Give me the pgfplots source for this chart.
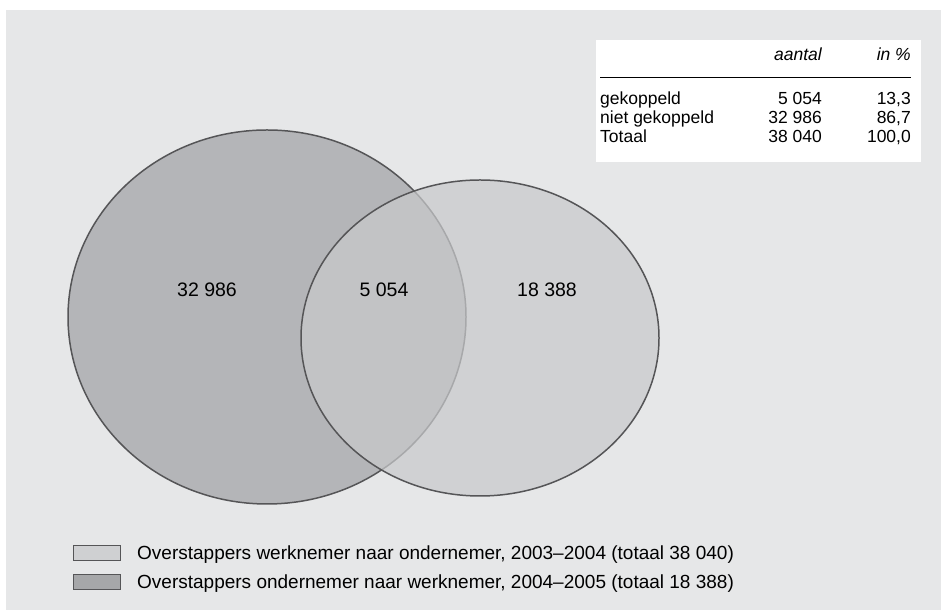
\documentclass[border=0pt]{standalone}
\usepackage{pgfplots}
\pgfplotsset{compat=1.18}
\usepackage{fontspec}
\setmainfont{Liberation Sans}
\definecolor{panel}{HTML}{E6E7E8}
\definecolor{leftfill}{HTML}{B4B5B8}
\definecolor{rightfill}{HTML}{C8C9CB}
\definecolor{edge}{HTML}{555557}
\definecolor{swA}{HTML}{CFD0D2}
\definecolor{swB}{HTML}{A6A7A9}
\begin{document}
\begin{tikzpicture}
\begin{axis}[
  width=941bp, height=610bp, scale only axis,
  xmin=0, xmax=941, ymin=0, ymax=610,
  hide axis, clip=false,
]
% page and panel
\fill[white] (axis cs:0,0) rectangle (axis cs:941,610);
\fill[panel] (axis cs:6,0) rectangle (axis cs:941,600);
% Venn ellipses
\filldraw[fill=leftfill, draw=edge, line width=1.5pt]
  (axis cs:267,293) ellipse [x radius=199, y radius=187];
\fill[rightfill, fill opacity=0.72]
  (axis cs:480,272) ellipse [x radius=179, y radius=158];
\draw[edge, line width=1.5pt]
  (axis cs:480,272) ellipse [x radius=179, y radius=158];
% region values
\node[font=\fontsize{19.5bp}{22bp}\selectfont, anchor=center] at (axis cs:207,320) {32 986};
\node[font=\fontsize{19.5bp}{22bp}\selectfont, anchor=center] at (axis cs:384,320) {5 054};
\node[font=\fontsize{19.5bp}{22bp}\selectfont, anchor=center] at (axis cs:547,320) {18 388};
% table
\fill[white] (axis cs:596,448) rectangle (axis cs:921,570);
\draw[black, line width=0.8pt] (axis cs:600,533) -- (axis cs:911,533);
\begin{scope}[every node/.style={font=\fontsize{17.5bp}{20bp}\selectfont, inner sep=0pt}]
\node[anchor=base east] at (axis cs:822,549) {\itshape aantal};
\node[anchor=base east] at (axis cs:911,549) {\itshape in \%};
\node[anchor=base west] at (axis cs:600,505) {gekoppeld};
\node[anchor=base east] at (axis cs:822,505) {5 054};
\node[anchor=base east] at (axis cs:911,505) {13,3};
\node[anchor=base west] at (axis cs:600,486) {niet gekoppeld};
\node[anchor=base east] at (axis cs:822,486) {32 986};
\node[anchor=base east] at (axis cs:911,486) {86,7};
\node[anchor=base west] at (axis cs:600,467) {Totaal};
\node[anchor=base east] at (axis cs:822,467) {38 040};
\node[anchor=base east] at (axis cs:911,467) {100,0};
\end{scope}
% legend
\begin{scope}[every node/.style={font=\fontsize{19bp}{22bp}\selectfont, inner sep=0pt}]
\filldraw[fill=swA, draw=edge, line width=0.8pt] (axis cs:73,50) rectangle (axis cs:120,65);
\node[anchor=base west] at (axis cs:137,50) {Overstappers werknemer naar ondernemer, 2003--2004 (totaal 38 040)};
\filldraw[fill=swB, draw=edge, line width=0.8pt] (axis cs:73,21) rectangle (axis cs:120,36);
\node[anchor=base west] at (axis cs:137,21) {Overstappers ondernemer naar werknemer, 2004--2005 (totaal 18 388)};
\end{scope}
\end{axis}
\end{tikzpicture}
\end{document}
